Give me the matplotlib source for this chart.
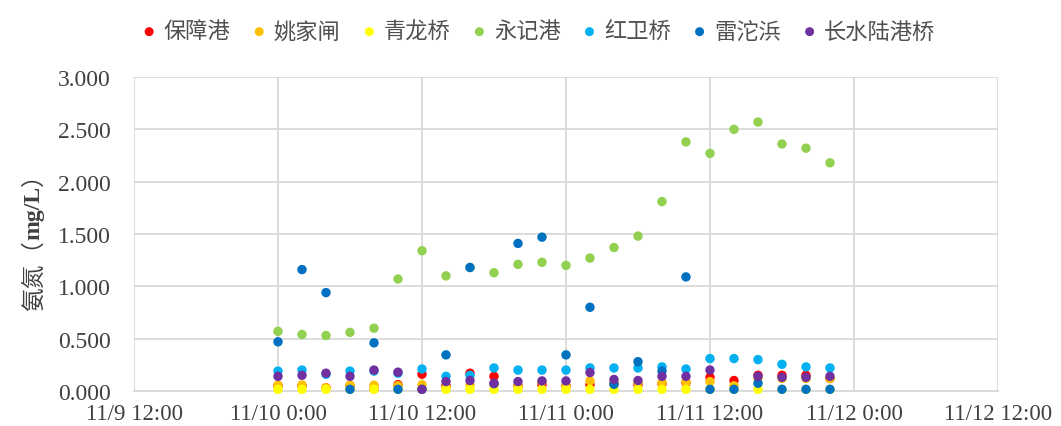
import numpy as np
import pandas as pd
import matplotlib
matplotlib.use("Agg")
import matplotlib.pyplot as plt
import matplotlib.dates as mdates
from matplotlib.ticker import FuncFormatter, MultipleLocator

# Sampling times: every 2 hours from 11/10 0:00 to 11/11 22:00
times = pd.date_range("2020-11-10 00:00", periods=24, freq="2h")
nan = np.nan

# Ammonia nitrogen (mg/L) per monitoring site
baozhanggang = [0.05, 0.05, 0.03, 0.05, 0.02, 0.06, 0.16, 0.05, 0.17, 0.14, 0.05, 0.06,
                0.05, 0.06, 0.07, 0.06, 0.07, 0.08, 0.13, 0.10, 0.15, 0.15, 0.15, 0.12]
yaojiazha = [0.055, 0.057, 0.03, 0.055, 0.055, 0.05, 0.06, 0.03, 0.055, 0.06, 0.05, 0.09,
             0.05, 0.096, 0.08, 0.08, 0.08, 0.086, 0.09, 0.05, 0.12, 0.12, 0.12, 0.12]
qinglongqiao = [0.016, 0.016, 0.016, 0.016, 0.016, 0.016, 0.016, 0.016, 0.016, 0.016, 0.016, 0.016,
                0.016, 0.016, 0.016, 0.016, 0.016, 0.016, 0.016, 0.016, 0.016, 0.016, 0.016, 0.016]
yongjigang = [0.57, 0.54, 0.53, 0.56, 0.60, 1.07, 1.34, 1.10, 1.18, 1.13, 1.21, 1.23,
              1.20, 1.27, 1.37, 1.48, 1.81, 2.38, 2.27, 2.50, 2.57, 2.36, 2.32, 2.18]
hongweiqiao = [0.19, 0.20, 0.16, 0.19, 0.19, 0.17, 0.21, 0.14, 0.15, 0.22, 0.20, 0.20,
               0.20, 0.22, 0.22, 0.22, 0.23, 0.21, 0.31, 0.31, 0.30, 0.255, 0.23, 0.22]
leituobang = [0.47, 1.16, 0.94, 0.016, 0.46, 0.016, 0.016, 0.345, 1.18, 0.07, 1.41, 1.47,
              0.345, 0.80, 0.064, 0.28, 0.19, 1.09, 0.016, 0.016, 0.074, 0.016, 0.016, 0.016]
changshuiluganqiao = [0.14, 0.15, 0.17, 0.14, 0.20, 0.18, 0.016, 0.09, 0.10, 0.074, 0.09, 0.096,
                      0.096, 0.176, 0.11, 0.10, 0.14, 0.14, 0.20, nan, 0.14, 0.13, 0.13, 0.14]

site_names = ["保障港", "姚家闸", "青龙桥", "永记港", "红卫桥", "雷沱浜", "长水陆港桥"]
site_values = [baozhanggang, yaojiazha, qinglongqiao, yongjigang,
               hongweiqiao, leituobang, changshuiluganqiao]
site_colors = ["#FF0000", "#FFC000", "#FFFF00", "#92D050", "#00B0F0", "#0070C0", "#7030A0"]

x_ticks = pd.date_range("2020-11-09 12:00", "2020-11-12 12:00", freq="12h")

text_color = "#404040"
grid_color = "#D9D9D9"

fig = plt.figure(figsize=(10.61, 4.27), dpi=100)
ax = fig.add_axes([0.1263, 0.082, 0.8143, 0.7353])

for name, vals, col in zip(site_names, site_values, site_colors):
    ax.scatter(times, vals, s=46, color=col, edgecolors="none", label=name,
               zorder=3, clip_on=False)

ax.set_xlim(x_ticks[0], x_ticks[-1])
ax.set_ylim(0, 3.0)
ax.yaxis.set_major_locator(MultipleLocator(0.5))
ax.yaxis.set_major_formatter(FuncFormatter(lambda v, p: f"{v:.3f}"))
ax.set_xticks(x_ticks)


def fmt_time(v, pos):
    d = mdates.num2date(v)
    return f"{d.month}/{d.day} {d.hour}:{d.minute:02d}"


ax.xaxis.set_major_formatter(FuncFormatter(fmt_time))

ax.grid(True, color=grid_color, linewidth=1.3, zorder=0)
ax.set_axisbelow(True)
for side in ["top", "right", "left"]:
    ax.spines[side].set_visible(False)
ax.spines["bottom"].set_color(grid_color)
ax.spines["bottom"].set_linewidth(1.3)
ax.tick_params(length=0, labelcolor=text_color)
ax.tick_params(axis="y", pad=17, labelsize=17)
ax.tick_params(axis="x", pad=9, labelsize=16.5)
for lab in ax.get_xticklabels() + ax.get_yticklabels():
    lab.set_fontfamily("Liberation Serif")

leg = fig.legend(loc="center", bbox_to_anchor=(540 / 1061, 1 - 32 / 427), ncol=7,
                 frameon=False, handlelength=0.4, handletextpad=0.45, columnspacing=1.1,
                 markerscale=0.95, prop={"family": ["Noto Sans CJK SC"], "size": 16})
for t in leg.get_texts():
    t.set_color("#505050")

# Y-axis title with bold unit
t1 = fig.text(0.032, 1 - 311 / 427, "氨氮（", rotation=90, ha="center", va="bottom",
              family=["Noto Sans CJK SC"], fontsize=17, color=text_color)
t2 = ax.annotate("mg/L", xy=(0.5, 1), xycoords=t1, ha="center", va="bottom", rotation=90,
                 family="Liberation Serif", fontweight="bold", fontsize=17, color=text_color,
                 annotation_clip=False)
t3 = ax.annotate("）", xy=(0.5, 1), xycoords=t2, ha="center", va="bottom", rotation=90,
                 family=["Noto Sans CJK SC"], fontsize=17, color=text_color,
                 annotation_clip=False)

fig.savefig("out.png", dpi=100)
